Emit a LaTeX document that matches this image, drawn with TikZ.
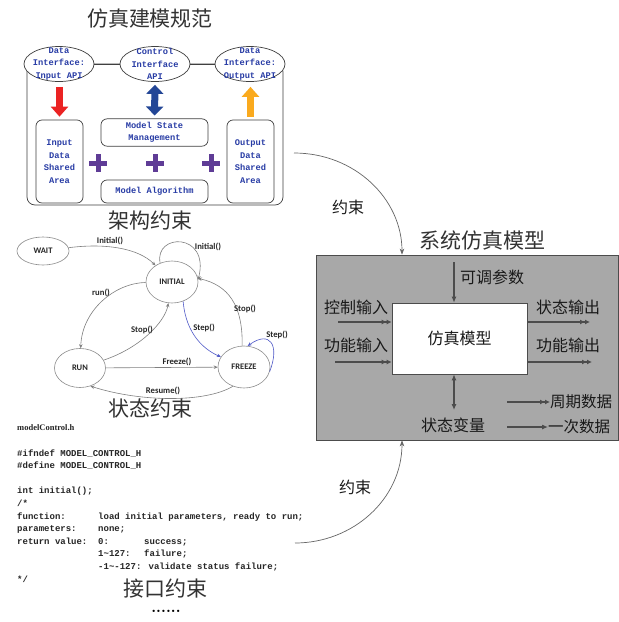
\documentclass[tikz,border=0pt]{standalone}
\usepackage{fontspec}
\setmainfont{Liberation Serif}
\newfontfamily\cjk{Noto Sans CJK SC}
\newfontfamily\mono{Liberation Mono}
\newfontfamily\lab{Carlito}
\usetikzlibrary{shapes.geometric,arrows.meta,calc}
\definecolor{apiblue}{RGB}{40,60,165}
\definecolor{plum}{RGB}{95,60,150}
\definecolor{arrred}{RGB}{235,35,35}
\definecolor{arrblue}{RGB}{35,70,150}
\definecolor{arrorange}{RGB}{250,170,30}
\definecolor{boxgray}{RGB}{168,168,168}
\definecolor{stepblue}{RGB}{80,90,200}
\begin{document}
\begin{tikzpicture}[x=1pt,y=-1pt,
  title/.style={font=\cjk\fontsize{21}{21}\selectfont, text=black!80, inner sep=0},
  apiell/.style={draw=black!75, fill=white, ellipse, minimum width=70pt, minimum height=35pt, inner sep=0, line width=0.7pt},
  apitxt/.style={font=\mono\bfseries\fontsize{8.7}{12.5}\selectfont, text=apiblue, align=center},
  sbox/.style={draw=black!75, rounded corners=6pt, line width=0.7pt},
  state/.style={draw=black!45, ellipse, line width=0.6pt, font=\lab\bfseries\fontsize{8.5}{9}\selectfont, text=black!85, inner sep=0},
  slabel/.style={font=\lab\bfseries\fontsize{8.7}{9}\selectfont, text=black!85, inner sep=1pt},
  sedge/.style={draw=black!50, line width=0.6pt, -{Stealth[length=4pt,width=3.5pt]}},
  bedge/.style={sedge, draw=stepblue},
  code/.style={font=\mono\bfseries\fontsize{9}{9}\selectfont, text=black!85, anchor=base west, inner sep=0},
  lbl/.style={font=\cjk\fontsize{16}{16}\selectfont, text=black!90, inner sep=0},
  parr/.style={draw=black!70, line width=1.1pt, -{Latex[length=5pt,width=5pt]Latex[length=5pt,width=5pt]}},
  sarr/.style={draw=black!70, line width=1.1pt, -{Latex[length=6pt,width=5pt]}},
  carr/.style={draw=black!60, line width=0.7pt, -{Stealth[length=6pt,width=4.5pt]}}
]
\fill[white] (0,0) rectangle (619,622);
\useasboundingbox (0,0) rectangle (619,622);

% ---------- top: modelling specification ----------
\node[title] (t1) at (150,19) {仿真建模规范};
\node[draw=black!75, line width=0.7pt, rounded corners=8pt, minimum width=256pt, minimum height=141pt] (frame) at (155,134.5) {};
\node[apiell] (ein) at (59,64) {};
\node[apiell] (ectl) at (155,64) {};
\node[apiell] (eout) at (250,64) {};
\draw[black!75, line width=0.7pt] (ein) -- (ectl);
\draw[black!75, line width=0.7pt] (ectl) -- (eout);
\node[apitxt] (tin) at (59,64) {Data\\Interface:\\Input API};
\node[apitxt] (tctl) at (155,64) {Control\\Interface\\API};
\node[apitxt] (tout) at (250,64) {Data\\Interface:\\Output API};

\node[sbox, apitxt, minimum width=47pt, minimum height=83pt] (inbox) at (59.5,161.5) {Input\\Data\\Shared\\Area};
\node[sbox, apitxt, minimum width=107pt, minimum height=25pt] (msm) at (154.5,132.5) {Model State\\Management};
\node[sbox, apitxt, minimum width=107pt, minimum height=23pt] (alg) at (154.5,191.5) {Model Algorithm};
\node[sbox, apitxt, minimum width=47pt, minimum height=83pt] (outbox) at (250.5,161.5) {Output\\Data\\Shared\\Area};

\draw[arrred, line width=6.5pt, shorten <=5pt, shorten >=3pt, -{Triangle[length=10pt,width=17pt]}] (inbox.north |- ein.south) -- (inbox.north);
\draw[arrblue, line width=7pt, shorten <=3pt, shorten >=3pt, {Triangle[length=9pt,width=17pt]}-{Triangle[length=9pt,width=17pt]}] (ectl.south) -- (msm.north);
\draw[arrorange, line width=6.5pt, shorten <=3pt, shorten >=5pt, -{Triangle[length=10pt,width=17pt]}] (outbox.north) -- (outbox.north |- eout.south);

\foreach \px in {98,155,211} {
  \fill[plum] (\px-9,160.5) rectangle (\px+9,165.5);
  \fill[plum] (\px-2.5,154) rectangle (\px+2.5,172);
}
\node[title] (t2) at (150,221) {架构约束};

% ---------- state machine ----------
\node[state, minimum width=52pt, minimum height=28pt] (wait) at (43,251) {WAIT};
\node[state, minimum width=52pt, minimum height=42pt] (initial) at (172,282) {INITIAL};
\node[state, minimum width=51pt, minimum height=39pt] (run) at (80,368) {RUN};
\node[state, minimum width=52pt, minimum height=42pt] (freeze) at (244,367) {FREEZE};

\draw[sedge] (wait) .. controls (105,243) and (138,248) .. (initial);
\draw[sedge] (initial.122) .. controls (154,233) and (210,232) .. (initial.5);
\draw[sedge] (initial) .. controls (115,283) and (82,310) .. (run);
\draw[sedge] (run) .. controls (140,348) and (165,322) .. (initial);
\draw[bedge] (initial.-60) .. controls (186,335) and (205,350) .. (freeze);
\draw[sedge] (freeze.95) .. controls (243,305) and (228,285) .. (initial.8);
\draw[bedge] (freeze.-10) .. controls (280,345) and (270,330) .. (freeze.80);
\draw[sedge] (run) -- (freeze);
\draw[sedge] (freeze.-120) .. controls (205,403) and (140,402) .. (run.-60);

\node[slabel] (l1) at (110,241) {Initial()};
\node[slabel] (l2) at (208,247) {Initial()};
\node[slabel] (l3) at (101,293) {run()};
\node[slabel] (l4) at (142,330) {Stop()};
\node[slabel] (l5) at (204,328) {Step()};
\node[slabel] (l6) at (245,309) {Stop()};
\node[slabel] (l7) at (277,335) {Step()};
\node[slabel] (l8) at (177,362) {Freeze()};
\node[slabel] (l9) at (163,391) {Resume()};
\node[title] (t3) at (150,408) {状态约束};

% ---------- interface code ----------
\node[font=\bfseries\fontsize{8.5}{9}\selectfont, text=black!85, anchor=base west, inner sep=0] (c0) at (17,430) {modelControl.h};
\node[code] (c1) at (17,456) {\#ifndef MODEL\_CONTROL\_H};
\node[code] (c2) at (17,468) {\#define MODEL\_CONTROL\_H};
\node[code] (c3) at (17,493) {int initial();};
\node[code] (c4) at (17,506) {/*};
\node[code] (c5) at (17,519) {function:};
\node[code] (c5b) at (98,519) {load initial parameters, ready to run;};
\node[code] (c6) at (17,531) {parameters:};
\node[code] (c6b) at (98,531) {none;};
\node[code] (c7) at (17,544) {return value:};
\node[code] (c7b) at (98,544) {0:};
\node[code] (c7c) at (144,544) {success;};
\node[code] (c8) at (98,556) {1\textasciitilde127:};
\node[code] (c8b) at (144,556) {failure;};
\node[code] (c9) at (98,569) {-1\textasciitilde-127: validate status failure;};
\node[code] (c10) at (17,582) {*/};
\node[title] (t4) at (165,589) {接口约束};
\node[font=\fontsize{9.5}{9.5}\selectfont, inner sep=0] (dots) at (166,612) {\textbullet\,\textbullet\,\textbullet\,\textbullet\,\textbullet\,\textbullet};

% ---------- system simulation model ----------
\node[title] (t5) at (482,240) {系统仿真模型};
\node[draw=black!70, fill=boxgray, line width=0.8pt, minimum width=302pt, minimum height=185pt] (gbox) at (467,347.5) {};
\node[draw=black!70, fill=white, line width=0.6pt, minimum width=135pt, minimum height=71pt, lbl] (wbox) at (459.5,338.5) {仿真模型};

\coordinate (ptop) at (454,262);
\draw[sarr] (ptop) -- (ptop |- wbox.north);
\node[lbl, anchor=west] (pp) at (460,277) {可调参数};

\node[lbl] (ci) at (356,307) {控制输入};
\coordinate (cis) at (338,322);
\draw[parr] (cis) -- (cis -| wbox.west);
\node[lbl] (fi) at (356,345) {功能输入};
\coordinate (fis) at (335,362);
\draw[parr] (fis) -- (fis -| wbox.west);

\node[lbl] (so) at (568,307) {状态输出};
\coordinate (soe) at (590,322);
\draw[parr] (soe -| wbox.east) -- (soe);
\node[lbl] (fo) at (568,345) {功能输出};
\coordinate (foe) at (592,362);
\draw[parr] (foe -| wbox.east) -- (foe);

\coordinate (sv) at (454,410);
\draw[sarr, {Latex[length=6pt,width=5pt]}-{Latex[length=6pt,width=5pt]}] (sv |- wbox.south) -- (sv);
\node[lbl] (svl) at (453,425) {状态变量};

\coordinate (lg1) at (507,402);
\coordinate (lg1e) at (550,402);
\draw[parr] (lg1) -- (lg1e);
\node[lbl, anchor=west, font=\cjk\fontsize{15.5}{16}\selectfont] (lgt1) at (lg1e) {周期数据};
\coordinate (lg2) at (507,427);
\coordinate (lg2e) at (548,427);
\draw[sarr] (lg2) -- (lg2e);
\node[lbl, anchor=west, font=\cjk\fontsize{15.5}{16}\selectfont] (lgt2) at (lg2e) {一次数据};

% ---------- constraint arrows ----------
\coordinate (k1) at (294,153);
\coordinate (k1e) at (402,255);
\draw[carr] (k1) .. controls (355,153) and (402,199) .. (k1e |- gbox.north);
\node[lbl] (kl1) at (348,207) {约束};
\coordinate (k2) at (295,543);
\coordinate (k2e) at (402,441);
\draw[carr] (k2) .. controls (353,543) and (402,499) .. (k2e |- gbox.south);
\node[lbl] (kl2) at (355,487) {约束};
\end{tikzpicture}
\end{document}
